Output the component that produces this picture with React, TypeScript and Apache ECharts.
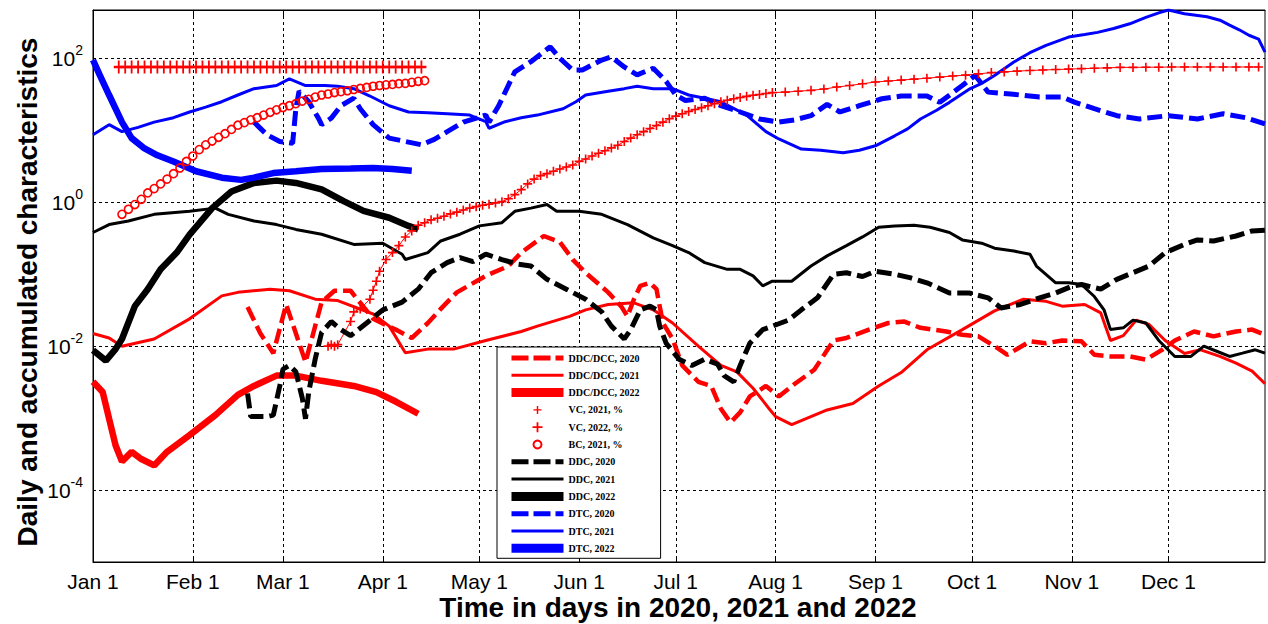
import React, { useEffect, useRef } from 'react';
import * as echarts from 'echarts';

// ---------- axis definitions ----------
const monthNames = ['Jan', 'Feb', 'Mar', 'Apr', 'May', 'Jun', 'Jul', 'Aug', 'Sep', 'Oct', 'Nov', 'Dec'];
const monthStartDays = [0, 31, 59, 90, 120, 151, 181, 212, 243, 273, 304, 334];
const dayCount = 365;
const yLogMin = -5;
const yLogMax = 2.673;
const yLabelExponents = [-4, -2, 0, 2];

// ---------- series values: [day of year, value] ----------
const ddcDcc2020: [number, number][] = [
  [48, 3.5e-2], [52, 1.5e-2], [56, 8e-3], [60, 3.8e-2], [66, 6e-3], [71, 4.1e-2], [75, 5.9e-2], [80, 5.9e-2],
  [87, 2.4e-2], [94, 1.7e-2], [99, 1.3e-2], [104, 2.1e-2], [108, 3.3e-2], [113, 5.6e-2], [122, 9.5e-2],
  [129, 0.13], [133, 0.2], [140, 0.34], [145, 0.28], [149, 0.16], [153, 0.105], [160, 5.6e-2], [164, 3.6e-2],
  [166, 2.6e-2], [168, 4.5e-2], [170, 6.9e-2], [173, 7.6e-2], [175, 6.2e-2], [176, 3.6e-2], [177, 2.1e-2],
  [180, 1.26e-2], [183, 5.4e-3], [188, 3.2e-3], [192, 2.8e-3], [195, 1.35e-3], [198, 8.7e-4], [201, 1.2e-3],
  [204, 2.0e-3], [209, 2.8e-3], [213, 2.0e-3], [218, 3.0e-3], [224, 4.7e-3], [230, 1.2e-2], [234, 1.3e-2],
  [241, 1.7e-2], [247, 2.1e-2], [252, 2.2e-2], [257, 1.8e-2], [265, 1.6e-2], [270, 1.44e-2], [275, 1.37e-2],
  [280, 1.0e-2], [284, 7.6e-3], [291, 1.17e-2], [296, 1.1e-2], [301, 1.2e-2], [307, 1.17e-2], [311, 7.6e-3],
  [316, 7.2e-3], [322, 7.2e-3], [327, 6.5e-3], [332, 8.9e-3], [336, 1.2e-2], [342, 1.6e-2], [348, 1.37e-2],
  [355, 1.6e-2], [360, 1.7e-2], [364, 1.44e-2],
];

const ddcDcc2021: [number, number][] = [
  [0, 1.5e-2], [5, 1.3e-2], [9, 1.0e-2], [19, 1.26e-2], [30, 2.4e-2], [40, 5.0e-2], [45, 5.6e-2], [55, 6.2e-2],
  [61, 5.9e-2], [69, 4.5e-2], [76, 4.3e-2], [87, 2.8e-2], [92, 1.9e-2], [97, 8.1e-3], [104, 9.1e-3],
  [112, 9.1e-3], [122, 1.2e-2], [133, 1.6e-2], [138, 1.9e-2], [148, 2.6e-2], [153, 3.2e-2], [160, 3.8e-2],
  [168, 4.0e-2], [174, 3.2e-2], [180, 2.1e-2], [188, 1.0e-2], [195, 5.4e-3], [200, 4.4e-3], [205, 2.6e-3],
  [210, 1.35e-3], [212, 1.05e-3], [217, 8.1e-4], [228, 1.3e-3], [236, 1.6e-3], [244, 2.8e-3], [251, 4.3e-3],
  [259, 8.9e-3], [270, 1.7e-2], [280, 3.1e-2], [289, 4.5e-2], [296, 4.2e-2], [301, 3.6e-2], [308, 3.8e-2],
  [313, 2.9e-2], [316, 1.2e-2], [320, 1.4e-2], [324, 2.3e-2], [328, 2.0e-2], [333, 1.2e-2], [339, 7.9e-3],
  [344, 8.9e-3], [350, 7.2e-3], [355, 5.8e-3], [360, 4.5e-3], [364, 3.0e-3],
];

const ddcDcc2022: [number, number][] = [
  [0, 3.2e-3], [3, 2.3e-3], [5, 9.8e-4], [7, 4.2e-4], [9, 2.5e-4], [12, 3.4e-4], [15, 2.7e-4], [19, 2.2e-4],
  [23, 3.4e-4], [30, 5.8e-4], [38, 1.1e-3], [45, 2.1e-3], [50, 2.8e-3], [57, 3.9e-3], [63, 3.9e-3],
  [71, 3.3e-3], [81, 2.8e-3], [88, 2.3e-3], [94, 1.7e-3], [101, 1.15e-3],
];

const vc2021: [number, number][] = [
  [73, 0.01], [74, 0.0105], [75, 0.01], [76, 0.0105], [80, 0.022], [81, 0.03], [83, 0.033], [86, 0.045],
  [87, 0.06], [88, 0.08], [89, 0.11], [91, 0.16], [93, 0.2], [95, 0.25], [97, 0.33], [99, 0.4], [101, 0.48],
  [103, 0.52], [105, 0.57], [107, 0.6], [109, 0.64], [111, 0.69], [113, 0.73], [115, 0.78], [117, 0.83],
  [119, 0.87], [121, 0.91], [123, 0.94], [125, 0.98], [127, 1.02], [129, 1.12], [131, 1.28], [133, 1.5],
  [135, 1.8], [137, 2.1], [139, 2.35], [141, 2.5], [143, 2.7], [145, 2.9], [147, 3.1], [149, 3.3], [151, 3.7],
  [153, 4.0], [155, 4.4], [157, 4.8], [159, 5.2], [161, 5.7], [163, 6.2], [165, 7.0], [167, 7.8], [169, 8.7],
  [171, 9.6], [173, 10.6], [175, 11.7], [177, 13], [179, 14.5], [181, 15.8], [183, 17], [185, 18.3],
  [187, 19.5], [189, 20.7], [191, 22], [193, 23.5], [195, 25], [197, 26.2], [199, 27.5], [201, 28.6],
  [203, 29.7], [205, 30.8], [207, 31.5], [209, 32.5], [211, 33.5], [215, 34], [219, 35], [223, 36],
  [227, 37.5], [231, 40], [235, 42], [239, 44.5], [243, 47], [247, 48.5], [251, 50], [255, 51.5], [259, 53],
  [263, 55], [267, 57], [271, 58.5], [275, 61], [279, 63.5], [283, 65], [287, 66.5], [291, 68], [295, 69],
  [299, 70], [303, 71], [307, 72], [311, 73], [315, 74], [319, 75], [323, 75], [327, 75.5], [331, 75.5],
  [335, 76], [339, 76], [343, 76], [347, 76], [351, 76], [355, 76], [359, 76], [362, 76],
];

const vc2022: [number, number][] = [
  [8, 76], [10, 76], [12, 76], [14, 76], [16, 76], [18, 76], [20, 76], [22, 76], [24, 76], [26, 76],
  [28, 76], [30, 76], [32, 76], [34, 76], [36, 76], [38, 76], [40, 76], [42, 76], [44, 76], [46, 76],
  [48, 76], [50, 76], [52, 76], [54, 76], [56, 76], [58, 76], [60, 76], [62, 76], [64, 76], [66, 76],
  [68, 76], [70, 76], [72, 76], [74, 76], [76, 76], [78, 76], [80, 76], [82, 76], [84, 76], [86, 76],
  [88, 76], [90, 76], [92, 76], [94, 76], [96, 76], [98, 76], [100, 76], [102, 76],
];

const bc2021: [number, number][] = [
  [9, 0.68], [11, 0.8], [13, 0.93], [15, 1.1], [17, 1.35], [19, 1.55], [21, 1.8], [23, 2.1], [25, 2.5],
  [27, 3.0], [29, 3.7], [31, 4.4], [33, 5.4], [35, 6.3], [37, 7.1], [39, 8.0], [41, 9.0], [43, 10.3],
  [45, 11.8], [47, 12.8], [49, 14], [51, 15], [53, 16.3], [55, 17.8], [57, 19.3], [59, 20.8], [61, 22],
  [63, 23.5], [65, 25.5], [67, 27], [69, 29], [71, 31], [73, 32], [75, 33.5], [77, 34.5], [79, 35.5],
  [81, 37], [83, 38.3], [85, 39.5], [87, 41], [89, 42], [91, 43], [93, 43.5], [95, 44.5], [97, 45],
  [99, 46.5], [101, 48], [103, 49],
];

const ddc2020: [number, number][] = [
  [48, 2.2e-3], [49, 1.05e-3], [54, 1.05e-3], [56, 1.1e-3], [58, 2.8e-3], [59, 4.8e-3], [61, 5.4e-3],
  [63, 4.4e-3], [65, 1.9e-3], [66, 9.8e-4], [67, 2.3e-3], [69, 6.6e-3], [71, 1.55e-2], [74, 2.2e-2],
  [77, 1.7e-2], [80, 1.4e-2], [85, 2.1e-2], [90, 3.2e-2], [96, 4.1e-2], [101, 6.2e-2], [105, 0.105],
  [110, 0.145], [114, 0.17], [118, 0.15], [122, 0.19], [127, 0.16], [132, 0.138], [136, 0.13], [141, 8.5e-2],
  [147, 6.2e-2], [153, 4.5e-2], [158, 3.0e-2], [161, 1.9e-2], [165, 1.26e-2], [167, 1.7e-2], [170, 3.2e-2],
  [173, 3.6e-2], [175, 3.2e-2], [176, 1.9e-2], [178, 1.1e-2], [182, 6.6e-3], [186, 5.4e-3], [190, 6.6e-3],
  [194, 5.6e-3], [196, 3.9e-3], [199, 3.2e-3], [201, 5.4e-3], [204, 1.1e-2], [208, 1.7e-2], [211, 1.9e-2],
  [216, 2.3e-2], [220, 3.2e-2], [225, 4.7e-2], [230, 0.1], [234, 0.105], [239, 9.3e-2], [243, 0.11],
  [249, 0.1], [254, 8.9e-2], [259, 7.6e-2], [266, 5.5e-2], [272, 5.5e-2], [278, 4.7e-2], [282, 3.4e-2],
  [288, 3.8e-2], [294, 4.7e-2], [299, 5.5e-2], [304, 6.8e-2], [307, 7.2e-2], [313, 6.2e-2], [318, 8.5e-2],
  [323, 0.105], [328, 0.13], [333, 0.2], [339, 0.26], [343, 0.3], [348, 0.29], [355, 0.34], [360, 0.4],
  [364, 0.41],
];

const ddc2021: [number, number][] = [
  [0, 0.38], [5, 0.49], [11, 0.55], [19, 0.68], [30, 0.75], [38, 0.83], [42, 0.68], [50, 0.55], [57, 0.49],
  [63, 0.42], [71, 0.36], [81, 0.26], [90, 0.27], [96, 0.19], [97, 0.16], [104, 0.2], [108, 0.29],
  [114, 0.36], [120, 0.47], [127, 0.52], [131, 0.75], [136, 0.83], [141, 0.93], [144, 0.75], [151, 0.75],
  [158, 0.68], [166, 0.49], [174, 0.32], [180, 0.25], [185, 0.2], [190, 0.145], [197, 0.117], [201, 0.117],
  [205, 9.5e-2], [208, 6.9e-2], [211, 8e-2], [217, 8e-2], [223, 0.13], [228, 0.18], [234, 0.25], [239, 0.33],
  [244, 0.45], [249, 0.47], [255, 0.48], [260, 0.45], [266, 0.38], [270, 0.3], [276, 0.27], [280, 0.23],
  [286, 0.21], [291, 0.19], [293, 0.13], [299, 7.6e-2], [303, 7.6e-2], [307, 7.2e-2], [311, 4.9e-2],
  [314, 3.2e-2], [316, 1.7e-2], [320, 1.8e-2], [323, 2.3e-2], [327, 2.1e-2], [331, 1.2e-2], [336, 7.2e-3],
  [341, 7.2e-3], [345, 1.0e-2], [349, 8.5e-3], [353, 7.2e-3], [357, 8e-3], [361, 8.9e-3], [364, 8e-3],
];

const ddc2022: [number, number][] = [
  [0, 8.8e-3], [4, 6.3e-3], [7, 9.1e-3], [9, 1.26e-2], [13, 3.6e-2], [17, 6.2e-2], [21, 0.117], [26, 0.2],
  [30, 0.355], [37, 0.83], [43, 1.41], [50, 1.86], [57, 2.0], [63, 1.86], [71, 1.51], [78, 1.03], [84, 0.76],
  [92, 0.61], [98, 0.47], [101, 0.42],
];

const dtc2020: [number, number][] = [
  [50, 13], [54, 8.7], [58, 7.0], [62, 6.6], [63, 20], [64, 35], [67, 25], [70, 14.8], [71, 12], [74, 14.8],
  [77, 22], [81, 28], [83, 20], [87, 12], [92, 7.8], [97, 7.0], [102, 6.3], [106, 7.5], [110, 9.6], [115, 13],
  [122, 16.3], [123, 13], [126, 22], [131, 65], [136, 90], [142, 145], [145, 100], [149, 69], [152, 69],
  [158, 95], [161, 105], [165, 76], [169, 59], [174, 73], [178, 48], [181, 31], [184, 26], [190, 28],
  [195, 22], [201, 18], [207, 14.4], [213, 13], [218, 14], [223, 16], [228, 23], [232, 18], [238, 22],
  [245, 27.5], [251, 30], [259, 30], [263, 24.5], [270, 42], [274, 58], [278, 34], [285, 32], [294, 29],
  [301, 29], [305, 24.5], [311, 20], [318, 16], [325, 14.4], [334, 16], [343, 14.4], [351, 17], [358, 15],
  [364, 12.3],
];

const dtc2021: [number, number][] = [
  [0, 8.7], [5, 12], [9, 9.6], [14, 11], [19, 13], [25, 15], [30, 18], [35, 21], [40, 25], [45, 31], [50, 38],
  [57, 42], [61, 52], [66, 42], [72, 42], [76, 41], [81, 38], [86, 30], [92, 22], [98, 18], [104, 17.6],
  [110, 17], [117, 16.3], [122, 13.2], [123, 10.7], [128, 13.2], [133, 15], [138, 16.3], [146, 20], [150, 25],
  [153, 31], [160, 35], [165, 38], [169, 41], [174, 38], [180, 38], [185, 31], [190, 28], [195, 25],
  [203, 16.3], [209, 9.6], [213, 7.6], [220, 5.5], [226, 5.3], [233, 4.9], [238, 5.3], [243, 6.1], [249, 8.4],
  [253, 10.5], [257, 14.4], [262, 19], [266, 24.5], [272, 37], [276, 45], [280, 58], [286, 89], [291, 120],
  [296, 152], [303, 198], [308, 215], [312, 230], [317, 260], [322, 303], [327, 372], [331, 430], [334, 470],
  [339, 417], [346, 380], [350, 340], [353, 290], [356, 250], [359, 210], [362, 186], [364, 122],
];

const dtc2022: [number, number][] = [
  [0, 95], [2, 60], [5, 31], [9, 13], [12, 7.8], [16, 5.6], [20, 4.5], [25, 3.7], [32, 2.7], [40, 2.2],
  [46, 2.05], [50, 2.2], [56, 2.55], [63, 2.7], [71, 2.9], [80, 2.95], [87, 3.0], [93, 2.9], [99, 2.75],
];

// ---------- styling ----------
const RED = '#ff0000';
const BLUE = '#0000ff';
const BLACK = '#000000';
const DASH = [15, 6];
const PLUS = 'path://M4.1,0H5.9V4.1H10V5.9H5.9V10H4.1V5.9H0V4.1H4.1Z';

const toLog = (pts: [number, number][]) => pts.map(([d, v]) => [d, Math.log10(v)]);

export default function App() {
  const ref = useRef<HTMLDivElement>(null);

  useEffect(() => {
    if (!ref.current) return;
    const chart = echarts.init(ref.current, null, { renderer: 'svg' });

    const categories = Array.from({ length: dayCount }, (_, i) => String(i));
    const isMonthStart = (i: number) => monthStartDays.indexOf(i) >= 0;

    const lineSeries = (name: string, data: [number, number][], color: string, width: number, type: any) => ({
      name,
      type: 'line',
      data: toLog(data),
      symbol: 'none',
      color,
      lineStyle: { color, width, type },
      itemStyle: { color },
      silent: true,
    });

    const series: any[] = [
      lineSeries('DDC/DCC, 2020', ddcDcc2020, RED, 4.5, DASH),
      lineSeries('DDC/DCC, 2021', ddcDcc2021, RED, 3, 'solid'),
      lineSeries('DDC/DCC, 2022', ddcDcc2022, RED, 6.5, 'solid'),
      {
        name: 'VC, 2021, %', type: 'line', data: toLog(vc2021), symbol: PLUS, symbolSize: 9,
        showSymbol: true, showAllSymbol: true, color: RED,
        lineStyle: { color: RED, width: 1 }, itemStyle: { color: RED }, silent: true,
      },
      {
        name: 'VC, 2022, %', type: 'line', data: toLog(vc2022), symbol: PLUS, symbolSize: [10, 13],
        showSymbol: true, showAllSymbol: true, color: RED,
        lineStyle: { color: RED, width: 1 }, itemStyle: { color: RED }, silent: true,
      },
      {
        name: 'BC, 2021, %', type: 'line', data: toLog(bc2021), symbol: 'circle', symbolSize: 8,
        showSymbol: true, showAllSymbol: true, color: RED,
        lineStyle: { width: 0, opacity: 0 },
        itemStyle: { color: 'rgba(255,0,0,0)', borderColor: RED, borderWidth: 1.6 }, silent: true,
      },
      lineSeries('DDC, 2020', ddc2020, BLACK, 5, DASH),
      lineSeries('DDC, 2021', ddc2021, BLACK, 3, 'solid'),
      lineSeries('DDC, 2022', ddc2022, BLACK, 6.5, 'solid'),
      lineSeries('DTC, 2020', dtc2020, BLUE, 5, DASH),
      lineSeries('DTC, 2021', dtc2021, BLUE, 3, 'solid'),
      lineSeries('DTC, 2022', dtc2022, BLUE, 6.5, 'solid'),
    ];

    const hideSym = { opacity: 0 };
    const monthTick = {
      show: true, inside: true, length: 6,
      interval: (i: number) => isMonthStart(i),
      lineStyle: { color: '#000', width: 1 },
    };
    const option: any = {
      animation: false,
      backgroundColor: '#ffffff',
      grid: {
        left: 93, top: 10, width: 1172, height: 552,
        show: true, borderColor: '#000', borderWidth: 1, backgroundColor: '#fff',
      },
      xAxis: [
        {
          type: 'category',
          data: categories,
          boundaryGap: false,
          position: 'bottom',
          axisLine: { show: true, onZero: false, lineStyle: { color: '#000', width: 1 } },
          axisTick: monthTick,
          axisLabel: {
            interval: (i: number) => isMonthStart(i),
            formatter: (_v: string, i: number) => {
              const m = monthStartDays.indexOf(i);
              return m >= 0 ? monthNames[m] + ' 1' : '';
            },
            fontFamily: 'Liberation Sans', fontSize: 21, color: '#000', margin: 9,
          },
          splitLine: {
            show: true, interval: (i: number) => isMonthStart(i) && i > 0,
            lineStyle: { color: '#000', width: 1, type: [3, 3] },
          },
        },
        {
          type: 'category',
          data: categories,
          boundaryGap: false,
          position: 'top',
          axisLine: { show: true, onZero: false, lineStyle: { color: '#000', width: 1 } },
          axisTick: monthTick,
          axisLabel: { show: false },
          splitLine: { show: false },
        },
      ],
      yAxis: {
        type: 'value',
        min: yLogMin,
        max: yLogMax,
        interval: 1,
        axisLine: { show: true, onZero: false, lineStyle: { color: '#000', width: 1 } },
        axisTick: { show: false },
        axisLabel: {
          margin: 10,
          formatter: (v: number) => {
            const r = Math.round(v);
            if (Math.abs(v - r) > 1e-6 || yLabelExponents.indexOf(r) < 0) return '';
            return '{b|10}{s|' + r + '}';
          },
          rich: {
            b: { fontFamily: 'Liberation Sans', fontSize: 21, color: '#000', lineHeight: 30 },
            s: { fontFamily: 'Liberation Sans', fontSize: 14, color: '#000', lineHeight: 14, verticalAlign: 'top' },
          },
        },
        splitLine: {
          show: true,
          lineStyle: { color: ['rgba(0,0,0,0)', '#000'], width: 1, type: [3, 3] },
        },
      },
      legend: {
        orient: 'vertical',
        left: 497, top: 347,
        itemWidth: 52, itemHeight: 10, itemGap: 7.3,
        padding: [6, 21, 5, 10],
        backgroundColor: '#fff', borderColor: '#000', borderWidth: 1, borderRadius: 0,
        selectedMode: false,
        textStyle: { fontFamily: 'Liberation Serif', fontSize: 10, fontWeight: 'bold', color: '#000', lineHeight: 10 },
        data: [
          { name: 'DDC/DCC, 2020', itemStyle: hideSym, lineStyle: { width: 5, type: [17, 5] } },
          { name: 'DDC/DCC, 2021', itemStyle: hideSym, lineStyle: { width: 3 } },
          { name: 'DDC/DCC, 2022', itemStyle: hideSym, lineStyle: { width: 9 } },
          { name: 'VC, 2021, %', lineStyle: { opacity: 0 } },
          { name: 'VC, 2022, %', icon: PLUS },
          { name: 'BC, 2021, %', lineStyle: { opacity: 0 } },
          { name: 'DDC, 2020', itemStyle: hideSym, lineStyle: { width: 5, type: [17, 5] } },
          { name: 'DDC, 2021', itemStyle: hideSym, lineStyle: { width: 3 } },
          { name: 'DDC, 2022', itemStyle: hideSym, lineStyle: { width: 9 } },
          { name: 'DTC, 2020', itemStyle: hideSym, lineStyle: { width: 5, type: [17, 5] } },
          { name: 'DTC, 2021', itemStyle: hideSym, lineStyle: { width: 3 } },
          { name: 'DTC, 2022', itemStyle: hideSym, lineStyle: { width: 9 } },
        ],
      },
      graphic: [
        {
          type: 'text', x: 678, y: 607, silent: true,
          style: {
            text: 'Time in days in 2020, 2021 and 2022',
            font: 'bold 28px "Liberation Sans"', fill: '#000',
            align: 'center', verticalAlign: 'middle', textAlign: 'center', textVerticalAlign: 'middle',
          },
        },
        {
          type: 'text', x: 27, y: 292, rotation: Math.PI / 2, silent: true,
          style: {
            text: 'Daily and accumulated characteristics',
            font: 'bold 28px "Liberation Sans"', fill: '#000',
            align: 'center', verticalAlign: 'middle', textAlign: 'center', textVerticalAlign: 'middle',
          },
        },
      ],
      series,
    };

    chart.setOption(option);
    return () => chart.dispose();
  }, []);

  return (
    <div
      ref={ref}
      style={{ position: 'absolute', left: 0, top: 0, width: 1268, height: 624, background: '#fff' }}
    />
  );
}
